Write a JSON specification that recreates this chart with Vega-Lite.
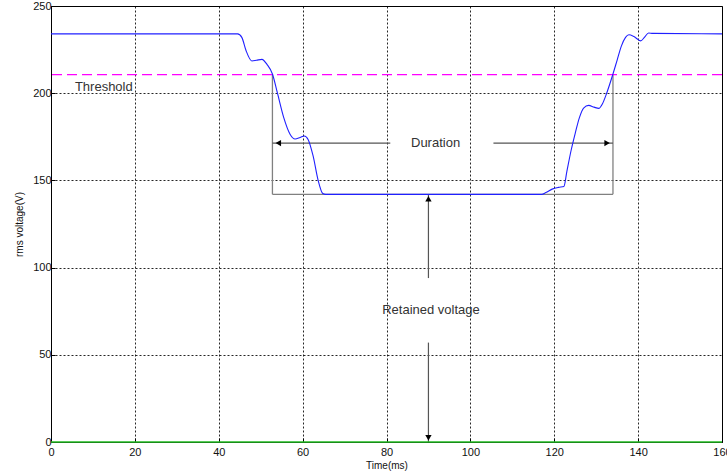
{
  "$schema": "https://vega.github.io/schema/vega-lite/v6.json",
  "autosize": "none",
  "width": 671,
  "height": 436,
  "padding": {"left": 51, "top": 6, "right": 5, "bottom": 34},
  "background": "white",
  "config": {
    "view": {"stroke": "#000", "strokeWidth": 1},
    "font": "Liberation Sans",
    "axis": {
      "labelFont": "Liberation Sans", "labelFontSize": 11, "labelColor": "#111", "labelFlush": false, "labelOverlap": false,
      "titleFont": "Liberation Sans", "titleFontSize": 10, "titleFontWeight": "normal", "titleColor": "#111",
      "domainColor": "#000", "tickColor": "#000", "tickSize": -4,
      "grid": true, "gridColor": "#000", "gridDash": [2, 2], "gridOpacity": 0.85, "gridWidth": 1
    }
  },
  "datasets": {
    "curve": [
      {"t": 0, "v": 234}, {"t": 44.5, "v": 234}, {"t": 45.5, "v": 232}, {"t": 46.5, "v": 224.5},
      {"t": 47.9, "v": 218.5}, {"t": 49, "v": 218.9}, {"t": 50.3, "v": 219.4}, {"t": 51.5, "v": 216.5},
      {"t": 52.8, "v": 211}, {"t": 54, "v": 200}, {"t": 55.5, "v": 186}, {"t": 57, "v": 176.5},
      {"t": 58.2, "v": 173.7}, {"t": 59.4, "v": 174.6}, {"t": 60.4, "v": 175.5}, {"t": 61.3, "v": 173.5},
      {"t": 62.5, "v": 164}, {"t": 63.7, "v": 150}, {"t": 64.8, "v": 142.5}, {"t": 65.5, "v": 142},
      {"t": 117, "v": 142}, {"t": 118, "v": 143}, {"t": 119.5, "v": 145}, {"t": 121, "v": 146},
      {"t": 122.3, "v": 146.5}, {"t": 123, "v": 155}, {"t": 124, "v": 167}, {"t": 125, "v": 177},
      {"t": 126, "v": 186}, {"t": 127, "v": 191.5}, {"t": 128.2, "v": 193}, {"t": 129.5, "v": 192},
      {"t": 130.6, "v": 191.3}, {"t": 131.5, "v": 194}, {"t": 132.5, "v": 200}, {"t": 134, "v": 211},
      {"t": 135, "v": 219}, {"t": 136, "v": 227}, {"t": 137, "v": 232}, {"t": 137.8, "v": 233.5},
      {"t": 139, "v": 232.5}, {"t": 140.6, "v": 230}, {"t": 141.5, "v": 232}, {"t": 142.5, "v": 234.5},
      {"t": 143.5, "v": 234.3}, {"t": 160, "v": 234}
    ],
    "boxes": [
      {"x1": 52.8, "x2": 52.8, "y1": 211, "y2": 142},
      {"x1": 134, "x2": 134, "y1": 211, "y2": 142},
      {"x1": 52.8, "x2": 134, "y1": 142, "y2": 142}
    ],
    "arrows": [
      {"x1": 52.8, "x2": 80.9, "y1": 171.4, "y2": 171.4},
      {"x1": 105.5, "x2": 134, "y1": 171.4, "y2": 171.4},
      {"x1": 90, "x2": 90, "y1": 94, "y2": 142},
      {"x1": 90, "x2": 90, "y1": 57, "y2": 0}
    ],
    "heads": [
      {"x": 54.2, "y": 171.4, "shape": "triangle-left"},
      {"x": 132.6, "y": 171.4, "shape": "triangle-right"},
      {"x": 90, "y": 139.5, "shape": "triangle-up"},
      {"x": 90, "y": 2.5, "shape": "triangle-down"}
    ],
    "centerLabels": [
      {"x": 91.7, "y": 171.4, "text": "Duration"},
      {"x": 90.6, "y": 75.7, "text": "Retained voltage"}
    ],
    "leftLabels": [
      {"x": 5.7, "y": 203.7, "text": "Threshold"}
    ]
  },
  "layer": [
    {
      "data": {"name": "boxes"},
      "mark": {"type": "rule", "color": "#808080", "strokeWidth": 1.3},
      "encoding": {
        "x": {"field": "x1", "type": "quantitative", "scale": {"domain": [0, 160], "nice": false}, "axis": {"values": [0, 20, 40, 60, 80, 100, 120, 140, 160], "title": "Time(ms)", "titlePadding": 3, "labelPadding": 8}},
        "x2": {"field": "x2"},
        "y": {"field": "y1", "type": "quantitative", "scale": {"domain": [0, 250], "nice": false}, "axis": {"values": [0, 50, 100, 150, 200, 250], "title": "rms voltage(V)", "titlePadding": 8, "labelPadding": 4}},
        "y2": {"field": "y2"}
      }
    },
    {
      "data": {"name": "arrows"},
      "mark": {"type": "rule", "color": "#555", "strokeWidth": 1.2},
      "encoding": {
        "x": {"field": "x1", "type": "quantitative"},
        "x2": {"field": "x2"},
        "y": {"field": "y1", "type": "quantitative"},
        "y2": {"field": "y2"}
      }
    },
    {
      "data": {"name": "heads"},
      "mark": {"type": "point", "filled": true, "color": "#000", "size": 40, "opacity": 1},
      "encoding": {
        "x": {"field": "x", "type": "quantitative"},
        "y": {"field": "y", "type": "quantitative"},
        "shape": {"field": "shape", "type": "nominal", "scale": null}
      }
    },
    {
      "data": {"values": [{"v": 210.6}]},
      "mark": {"type": "rule", "color": "#ff00ff", "strokeWidth": 1.3, "strokeDash": [10, 5]},
      "encoding": {"y": {"field": "v", "type": "quantitative"}}
    },
    {
      "data": {"values": [{"v": 0}]},
      "mark": {"type": "rule", "color": "#22bb22", "strokeWidth": 1.5},
      "encoding": {"y": {"field": "v", "type": "quantitative"}}
    },
    {
      "data": {"name": "curve"},
      "mark": {"type": "line", "color": "#2020ff", "strokeWidth": 1.1, "interpolate": "monotone"},
      "encoding": {
        "x": {"field": "t", "type": "quantitative"},
        "y": {"field": "v", "type": "quantitative"}
      }
    },
    {
      "data": {"name": "centerLabels"},
      "mark": {"type": "text", "fontSize": 13, "color": "#333", "baseline": "middle", "align": "center", "font": "Liberation Sans"},
      "encoding": {
        "x": {"field": "x", "type": "quantitative"},
        "y": {"field": "y", "type": "quantitative"},
        "text": {"field": "text"}
      }
    },
    {
      "data": {"name": "leftLabels"},
      "mark": {"type": "text", "fontSize": 13, "color": "#333", "baseline": "middle", "align": "left", "font": "Liberation Sans"},
      "encoding": {
        "x": {"field": "x", "type": "quantitative"},
        "y": {"field": "y", "type": "quantitative"},
        "text": {"field": "text"}
      }
    }
  ]
}
